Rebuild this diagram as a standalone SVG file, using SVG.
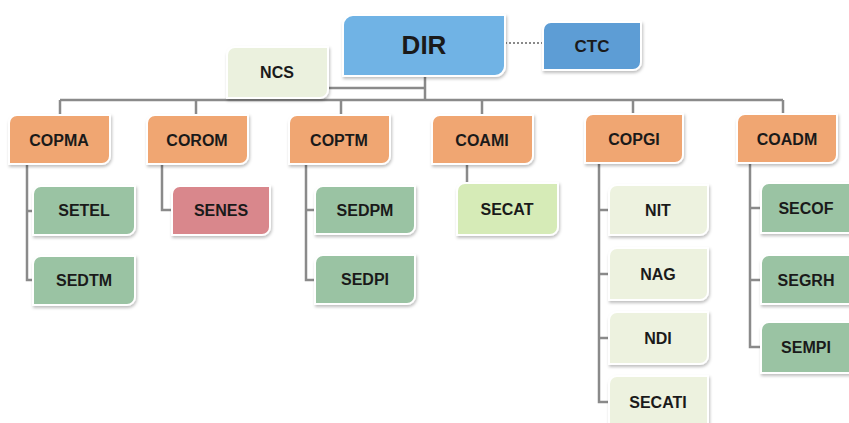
<svg xmlns="http://www.w3.org/2000/svg" width="849" height="423" viewBox="0 0 849 423">
<defs>
<filter id="sh" x="-10%" y="-10%" width="125%" height="130%">
<feDropShadow dx="1" dy="2" stdDeviation="1.5" flood-color="#000" flood-opacity="0.25"/>
</filter>
</defs>
<style>
.n{stroke:#ffffff;stroke-width:2;filter:url(#sh)}
.t{font-family:"Liberation Sans",Arial,sans-serif;font-weight:bold;font-size:16px;fill:#1a1a1a;text-anchor:middle}
.c{fill:none;stroke:#8a8a8a;stroke-width:2.5}
.or{fill:#f0a672}
.gr{fill:#9ac3a3}
.lt{fill:#edf2df}
</style>
<rect width="849" height="423" fill="#ffffff"/>
<g id="connectors">
<path class="c" d="M425,76 V100 M328,88 H425 M60,100 H783 M60,100 V115 M196,100 V115 M341,100 V115 M482,100 V115 M633,100 V114 M783,100 V114"/>
<path class="c" d="M27,164 V280 H33 M27,211 H33"/>
<path class="c" d="M162,164 V210 H172"/>
<path class="c" d="M306,164 V280 H315 M306,210 H315"/>
<path class="c" d="M467,164 V183"/>
<path class="c" d="M599,163 V402 H609 M599,210 H609 M599,274 H609 M599,338 H609"/>
<path class="c" d="M750,163 V347 H761 M750,208 H761 M750,280 H761"/>
<path d="M505,43 H543" fill="none" stroke="#8a8a8a" stroke-width="2" stroke-dasharray="2,2"/>
</g>
<g id="DIR"><path class="n" fill="#6fb3e5" d="M353,15 H505 V66 A10,10 0 0 1 495,76 H343 V25 A10,10 0 0 1 353,15 Z"/><text class="t" x="424" y="54" style="font-size:26px">DIR</text></g>
<g id="CTC"><path class="n" fill="#5d9dd5" d="M551,22 H641 V62 A8,8 0 0 1 633,70 H543 V30 A8,8 0 0 1 551,22 Z"/><text class="t" x="592" y="52" style="font-size:17px">CTC</text></g>
<g id="NCS"><path class="n" fill="#ebf1de" d="M235,47 H328 V90 A8,8 0 0 1 320,98 H227 V55 A8,8 0 0 1 235,47 Z"/><text class="t" x="277" y="78">NCS</text></g>
<g id="COPMA"><path class="n or" d="M17,115 H110 V156 A8,8 0 0 1 102,164 H9 V123 A8,8 0 0 1 17,115 Z"/><text class="t" x="59" y="146">COPMA</text></g>
<g id="COROM"><path class="n or" d="M155,115 H248 V156 A8,8 0 0 1 240,164 H147 V123 A8,8 0 0 1 155,115 Z"/><text class="t" x="197" y="146">COROM</text></g>
<g id="COPTM"><path class="n or" d="M297,115 H390 V156 A8,8 0 0 1 382,164 H289 V123 A8,8 0 0 1 297,115 Z"/><text class="t" x="339" y="146">COPTM</text></g>
<g id="COAMI"><path class="n or" d="M440,115 H533 V156 A8,8 0 0 1 525,164 H432 V123 A8,8 0 0 1 440,115 Z"/><text class="t" x="482" y="146">COAMI</text></g>
<g id="COPGI"><path class="n or" d="M593,114 H683 V155 A8,8 0 0 1 675,163 H585 V122 A8,8 0 0 1 593,114 Z"/><text class="t" x="634" y="145">COPGI</text></g>
<g id="COADM"><path class="n or" d="M745,114 H837 V155 A8,8 0 0 1 829,163 H737 V122 A8,8 0 0 1 745,114 Z"/><text class="t" x="787" y="145">COADM</text></g>
<g id="SETEL"><path class="n gr" d="M41,186 H135 V227 A8,8 0 0 1 127,235 H33 V194 A8,8 0 0 1 41,186 Z"/><text class="t" x="84" y="216">SETEL</text></g>
<g id="SEDTM"><path class="n gr" d="M41,256 H135 V297 A8,8 0 0 1 127,305 H33 V264 A8,8 0 0 1 41,256 Z"/><text class="t" x="84" y="286">SEDTM</text></g>
<g id="SENES"><path class="n" fill="#d9878c" d="M180,186 H270 V227 A8,8 0 0 1 262,235 H172 V194 A8,8 0 0 1 180,186 Z"/><text class="t" x="221" y="216">SENES</text></g>
<g id="SEDPM"><path class="n gr" d="M323,186 H415 V226 A8,8 0 0 1 407,234 H315 V194 A8,8 0 0 1 323,186 Z"/><text class="t" x="365" y="216">SEDPM</text></g>
<g id="SEDPI"><path class="n gr" d="M323,255 H415 V296 A8,8 0 0 1 407,304 H315 V263 A8,8 0 0 1 323,255 Z"/><text class="t" x="365" y="285">SEDPI</text></g>
<g id="SECAT"><path class="n" fill="#d6ebb7" d="M465,183 H558 V227 A8,8 0 0 1 550,235 H457 V191 A8,8 0 0 1 465,183 Z"/><text class="t" x="507" y="215">SECAT</text></g>
<g id="NIT"><path class="n lt" d="M617,185 H708 V227 A8,8 0 0 1 700,235 H609 V193 A8,8 0 0 1 617,185 Z"/><text class="t" x="658" y="216">NIT</text></g>
<g id="NAG"><path class="n lt" d="M617,248 H708 V292 A8,8 0 0 1 700,300 H609 V256 A8,8 0 0 1 617,248 Z"/><text class="t" x="658" y="280">NAG</text></g>
<g id="NDI"><path class="n lt" d="M617,312 H708 V356 A8,8 0 0 1 700,364 H609 V320 A8,8 0 0 1 617,312 Z"/><text class="t" x="658" y="344">NDI</text></g>
<g id="SECATI"><path class="n lt" d="M617,376 H708 V428 A8,8 0 0 1 700,436 H609 V384 A8,8 0 0 1 617,376 Z"/><text class="t" x="658" y="408">SECATI</text></g>
<g id="SECOF"><path class="n gr" d="M769,183 H861 V225 A8,8 0 0 1 853,233 H761 V191 A8,8 0 0 1 769,183 Z"/><text class="t" x="806" y="214">SECOF</text></g>
<g id="SEGRH"><path class="n gr" d="M769,255 H861 V296 A8,8 0 0 1 853,304 H761 V263 A8,8 0 0 1 769,255 Z"/><text class="t" x="806" y="286">SEGRH</text></g>
<g id="SEMPI"><path class="n gr" d="M769,322 H861 V365 A8,8 0 0 1 853,373 H761 V330 A8,8 0 0 1 769,322 Z"/><text class="t" x="806" y="353">SEMPI</text></g>
</svg>
